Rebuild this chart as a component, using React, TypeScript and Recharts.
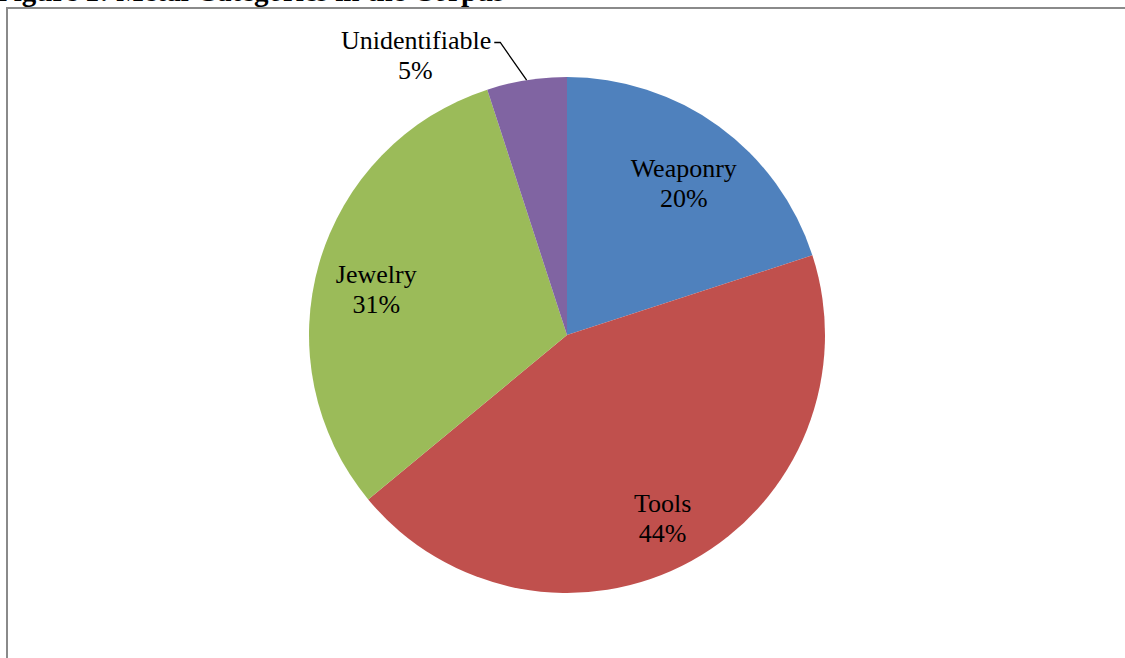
import React from "react";
import { PieChart, Pie, Cell } from "recharts";

const categories = ["Weaponry", "Tools", "Jewelry", "Unidentifiable"];
const shares = [20, 44, 31, 5];
const colors = ["#4F81BD", "#C0504D", "#9BBB59", "#8064A2"];
const titleText = "Figure 1: Metal Categories in the Corpus";

const data = categories.map((name, i) => ({ name, value: shares[i] }));

const RAD = Math.PI / 180;
const FONT = "'Liberation Serif', 'Times New Roman', serif";
const FS = 26;

const renderLabel = (props: any) => {
  const { cx, cy, midAngle, outerRadius, percent, name } = props;
  const pct = `${Math.round(percent * 100)}%`;
  if (percent < 0.1) {
    const sx = cx + outerRadius * Math.cos(-midAngle * RAD);
    const sy = cy + outerRadius * Math.sin(-midAngle * RAD);
    const la = midAngle + 26;
    const ex = sx + 46 * Math.cos(-la * RAD);
    const ey = sy + 46 * Math.sin(-la * RAD);
    const hx = ex - 6;
    return (
      <g>
        <polyline
          points={`${sx},${sy} ${ex},${ey} ${hx},${ey}`}
          fill="none"
          stroke="#000"
          strokeWidth={1.3}
        />
        <text x={hx - 3} y={ey + 7} textAnchor="end" fontFamily={FONT} fontSize={FS} fill="#000">
          {name}
        </text>
        <text x={hx - 79} y={ey + 37} textAnchor="middle" fontFamily={FONT} fontSize={FS} fill="#000">
          {pct}
        </text>
      </g>
    );
  }
  const r = outerRadius * 0.77;
  const x = cx + r * Math.cos(-midAngle * RAD);
  const y = cy + r * Math.sin(-midAngle * RAD);
  return (
    <g>
      <text x={x} y={y + 3} textAnchor="middle" fontFamily={FONT} fontSize={FS} fill="#000">
        {name}
      </text>
      <text x={x} y={y + 33} textAnchor="middle" fontFamily={FONT} fontSize={FS} fill="#000">
        {pct}
      </text>
    </g>
  );
};

export default function App() {
  return (
    <div style={{ position: "absolute", left: 0, top: 0, width: 1125, height: 658, overflow: "hidden", background: "#fff" }}>
      <svg width={1125} height={20} style={{ position: "absolute", left: 0, top: 0 }}>
        <text x={-4} y={1} fontFamily={FONT} fontWeight="bold" fontSize={29} fill="#000">
          {titleText}
        </text>
      </svg>
      <div
        style={{
          position: "absolute",
          left: 6,
          top: 7,
          width: 1200,
          height: 700,
          borderLeft: "2px solid #8a8a8a",
          borderTop: "2px solid #8a8a8a",
        }}
      />
      <div style={{ position: "absolute", left: 0, top: 0 }}>
        <PieChart width={1125} height={658} margin={{ top: 0, right: 0, bottom: 0, left: 0 }}>
          <Pie
            data={data}
            dataKey="value"
            nameKey="name"
            cx={567}
            cy={335}
            outerRadius={258}
            startAngle={90}
            endAngle={-270}
            stroke="none"
            labelLine={false}
            label={renderLabel}
            isAnimationActive={false}
          >
            {data.map((d, i) => (
              <Cell key={d.name} fill={colors[i]} />
            ))}
          </Pie>
        </PieChart>
      </div>
    </div>
  );
}
